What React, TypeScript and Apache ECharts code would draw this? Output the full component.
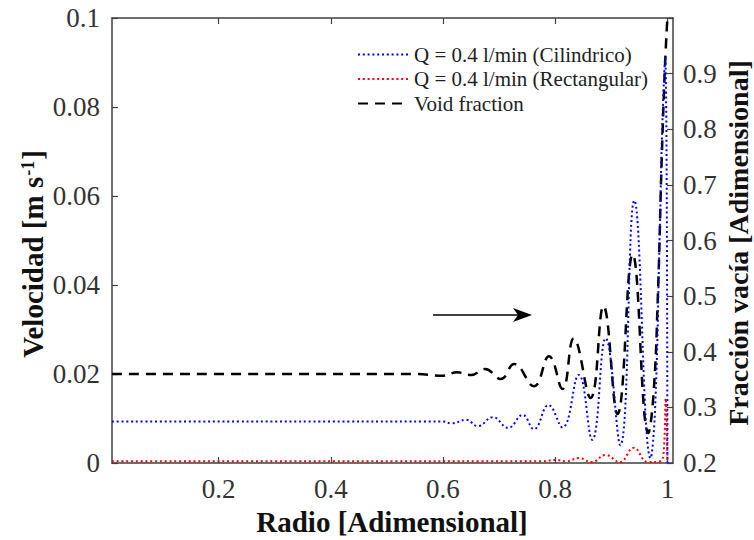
import { useEffect, useRef } from 'react';
import * as echarts from 'echarts';

// Q = 0.4 l/min (Cilindrico) — velocity [m/s] vs radius
const radioCil = [0.01, 0.2, 0.4, 0.6, 0.615, 0.641, 0.662, 0.689, 0.716, 0.742, 0.762, 0.788, 0.813, 0.842, 0.866, 0.89, 0.916, 0.941, 0.97, 0.978, 0.986, 0.991, 0.996, 1.0];
const velCil = [0.0093, 0.0093, 0.0093, 0.0093, 0.0089, 0.0097, 0.0083, 0.0103, 0.0079, 0.0108, 0.0076, 0.013, 0.008, 0.0198, 0.0052, 0.028, 0.004, 0.059, 0.0011, 0.012, 0.05, 0.076, 0.091, 0.0];

// Q = 0.4 l/min (Rectangular)
const radioRect = [0.01, 0.4, 0.78, 0.8, 0.82, 0.842, 0.865, 0.89, 0.915, 0.94, 0.965, 0.985, 0.993, 0.997, 1.0];
const velRect = [0.0004, 0.0004, 0.0004, 0.0007, 0.0004, 0.0011, 0.0002, 0.0018, 0.0002, 0.0034, 0.0002, 0.0003, 0.002, 0.0145, 0.0];

// Void fraction (right axis)
const radioVoid = [0.01, 0.3, 0.55, 0.6, 0.625, 0.65, 0.675, 0.703, 0.727, 0.762, 0.789, 0.813, 0.833, 0.863, 0.886, 0.911, 0.938, 0.966, 0.975, 0.983, 0.99, 0.996, 1.0];
const fracVoid = [0.36, 0.36, 0.36, 0.357, 0.363, 0.358, 0.369, 0.351, 0.378, 0.338, 0.392, 0.333, 0.424, 0.317, 0.482, 0.288, 0.575, 0.254, 0.32, 0.5, 0.75, 0.92, 1.0];

const xTicks = [0.2, 0.4, 0.6, 0.8, 1];
const seriesNames = ['Q = 0.4 l/min (Cilindrico)', 'Q = 0.4 l/min (Rectangular)', 'Void fraction'];

const FONT = '"Liberation Serif", "Times New Roman", serif';
const AXIS_COLOR = '#404040';
const LABEL_COLOR = '#333';

function pairs(xs: number[], ys: number[]) {
  return xs.map((x, i) => [x, ys[i]]);
}

export default function App() {
  const ref = useRef<HTMLDivElement>(null);

  useEffect(() => {
    if (!ref.current) return;
    const chart = echarts.init(ref.current, undefined, { renderer: 'svg' });

    const axisLine = { show: true, lineStyle: { color: AXIS_COLOR, width: 1.5 } };
    const tickStyle = { color: AXIS_COLOR, width: 1.2 };
    const labelStyle = { fontFamily: FONT, fontSize: 27, color: LABEL_COLOR };

    chart.setOption({
      animation: false,
      backgroundColor: '#fff',
      grid: { left: 112, right: 81, top: 18, bottom: 77, containLabel: false },
      legend: {
        orient: 'vertical',
        left: 352,
        top: 39,
        itemWidth: 51,
        itemHeight: 12,
        itemGap: 3.5,
        itemStyle: { opacity: 0 },
        textStyle: { fontFamily: FONT, fontSize: 21, color: '#222', lineHeight: 21 },
        data: seriesNames,
      },
      xAxis: [
        {
          type: 'value',
          position: 'bottom',
          min: 0.01,
          max: 1.01,
          axisLine,
          axisTick: { show: true, inside: true, length: 6, customValues: xTicks, lineStyle: tickStyle },
          axisLabel: { ...labelStyle, margin: 12, customValues: xTicks, formatter: (v: number) => String(v) },
          splitLine: { show: false },
        },
        {
          type: 'value',
          position: 'top',
          min: 0.01,
          max: 1.01,
          axisLine,
          axisTick: { show: true, inside: true, length: 6, customValues: xTicks, lineStyle: tickStyle },
          axisLabel: { show: false },
          splitLine: { show: false },
        },
      ],
      yAxis: [
        {
          type: 'value',
          position: 'left',
          min: 0,
          max: 0.1,
          interval: 0.02,
          axisLine,
          axisTick: { show: true, inside: true, length: 6, lineStyle: tickStyle },
          axisLabel: { ...labelStyle, margin: 12, formatter: (v: number) => String(+v.toFixed(2)) },
          splitLine: { show: false },
        },
        {
          type: 'value',
          position: 'right',
          min: 0.2,
          max: 1.0,
          interval: 0.1,
          axisLine,
          axisTick: { show: true, inside: true, length: 6, lineStyle: tickStyle },
          axisLabel: { ...labelStyle, margin: 10, formatter: (v: number) => (v > 0.95 ? '' : v.toFixed(1)) },
          splitLine: { show: false },
        },
      ],
      series: [
        {
          name: seriesNames[0],
          type: 'line',
          xAxisIndex: 0,
          yAxisIndex: 0,
          data: pairs(radioCil, velCil),
          showSymbol: false,
          symbol: 'none',
          smooth: 0.45,
          lineStyle: { color: '#0000ff', width: 2, type: [2, 2.8] },
          itemStyle: { color: '#0000ff' },
          z: 3,
        },
        {
          name: seriesNames[1],
          type: 'line',
          xAxisIndex: 0,
          yAxisIndex: 0,
          data: pairs(radioRect, velRect),
          showSymbol: false,
          symbol: 'none',
          smooth: 0.45,
          lineStyle: { color: '#ff0000', width: 2, type: [2, 2.8] },
          itemStyle: { color: '#ff0000' },
          z: 3,
        },
        {
          name: seriesNames[2],
          type: 'line',
          xAxisIndex: 0,
          yAxisIndex: 1,
          data: pairs(radioVoid, fracVoid),
          showSymbol: false,
          symbol: 'none',
          smooth: 0.45,
          lineStyle: { color: '#000000', width: 2.5, type: [10, 7] },
          itemStyle: { color: '#000000' },
          z: 2,
        },
      ],
      graphic: [
        {
          type: 'text',
          x: 392,
          y: 522,
          style: {
            text: 'Radio [Adimensional]',
            font: `bold 29px ${FONT}`,
            fill: '#111',
            align: 'center',
            verticalAlign: 'middle',
            textAlign: 'center',
            textVerticalAlign: 'middle',
          },
        },
        {
          type: 'text',
          x: 33,
          y: 254,
          rotation: Math.PI / 2,
          style: {
            text: '{b|Velocidad [m s}{s|-1}{b|]}',
            font: `bold 29px ${FONT}`,
            fill: '#111',
            align: 'center',
            verticalAlign: 'middle',
            textAlign: 'center',
            textVerticalAlign: 'middle',
            rich: {
              b: { font: `bold 29px ${FONT}`, fill: '#111', verticalAlign: 'bottom' },
              s: { font: `bold 18px ${FONT}`, fill: '#111', verticalAlign: 'top', padding: [0, 1, 8, 1] },
            },
          },
        },
        {
          type: 'text',
          x: 738,
          y: 243,
          rotation: Math.PI / 2,
          style: {
            text: 'Fracción vacía [Adimensional]',
            font: `bold 28px ${FONT}`,
            fill: '#111',
            align: 'center',
            verticalAlign: 'middle',
            textAlign: 'center',
            textVerticalAlign: 'middle',
          },
        },
        {
          type: 'line',
          shape: { x1: 433, y1: 315, x2: 522, y2: 315 },
          style: { stroke: '#000', lineWidth: 1.6 },
        },
        {
          type: 'polygon',
          shape: { points: [[532, 315], [513, 308], [518, 315], [513, 322]] },
          style: { fill: '#000' },
        },
      ],
    });

    return () => chart.dispose();
  }, []);

  return (
    <div
      ref={ref}
      style={{ position: 'fixed', left: 0, top: 0, width: 754, height: 540, background: '#fff' }}
    />
  );
}
